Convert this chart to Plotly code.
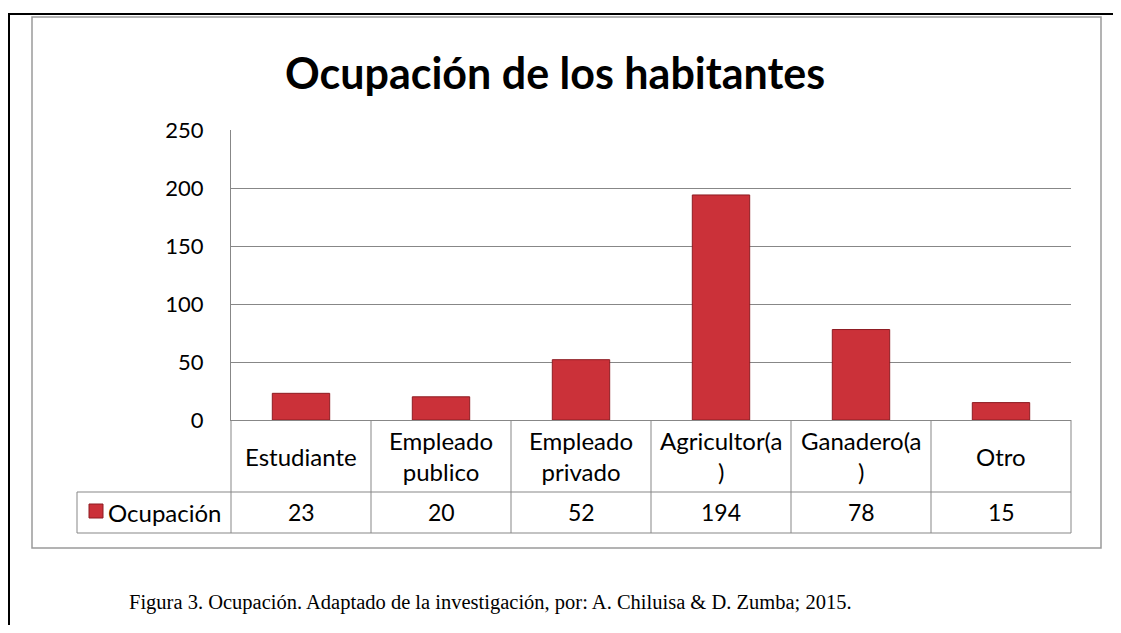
import plotly.graph_objects as go

categories = ["Estudiante", "Empleado publico", "Empleado privado", "Agricultor(a)", "Ganadero(a)", "Otro"]
cat_labels = ["Estudiante", "Empleado<br>publico", "Empleado<br>privado", "Agricultor(a<br>)", "Ganadero(a<br>)", "Otro"]
values = [23, 20, 52, 194, 78, 15]
series_name = "Ocupación"
title = "Ocupación de los habitantes"
caption = "Figura 3. Ocupación. Adaptado de la investigación, por: A. Chiluisa & D. Zumba; 2015."
y_ticks = [0, 50, 100, 150, 200, 250]

OFF = 8  # page body margin
W, H = 1121 - 2 * OFF, 633 - 2 * OFF
L, R, T, B = 231, 1071, 130, 420  # target page pixels


def px(x):
    return (x - L) / (R - L)


def py(y):
    return (B - y) / (B - T)


FONT = "Lato"
GRID = "#878787"
BAR = "#CB3139"
BAR_EDGE = "#8E1C22"

fig = go.Figure()
fig.add_trace(go.Bar(
    x=categories, y=values, name=series_name, width=0.41,
    marker=dict(color=BAR, line=dict(color=BAR_EDGE, width=1)),
    showlegend=False,
))

shapes = []


def line(x0, y0, x1, y1, color=GRID, width=1):
    shapes.append(dict(type="line", xref="paper", yref="paper",
                       x0=px(x0), y0=py(y0), x1=px(x1), y1=py(y1),
                       line=dict(color=color, width=width)))


# outer black frame (top and left)
line(8, 14, 1125, 14, "#000000", 2)
line(9, 14, 9, 640, "#000000", 2)
# gray chart frame
shapes.append(dict(type="rect", xref="paper", yref="paper",
                   x0=px(32), y0=py(17), x1=px(1101), y1=py(548),
                   line=dict(color="#9a9a9a", width=1.5)))

# data table grid
row1, row2 = 492, 533
line(77, row1, R, row1)
line(77, row2, R, row2)
line(77, row1, 77, row2)
n = len(categories)
colw = (R - L) / n
for i in range(n + 1):
    xx = L + i * colw
    line(xx, B, xx, row2)

annotations = []
for i, (lab, v) in enumerate(zip(cat_labels, values)):
    annotations.append(dict(x=categories[i], xref="x", y=py(456), yref="paper",
                            text=lab, showarrow=False, yanchor="middle",
                            font=dict(family=FONT, size=24, color="#000")))
    annotations.append(dict(x=categories[i], xref="x", y=py(512), yref="paper",
                            text=str(v), showarrow=False, yanchor="middle",
                            font=dict(family=FONT, size=23, color="#000")))

# legend key in table
shapes.append(dict(type="rect", xref="paper", yref="paper",
                   x0=px(89), y0=py(504), x1=px(103), y1=py(518),
                   fillcolor=BAR, line=dict(color=BAR_EDGE, width=1)))
annotations.append(dict(x=px(106), y=py(512), xref="paper", yref="paper",
                        text=series_name, showarrow=False, xanchor="left", yanchor="middle",
                        font=dict(family=FONT, size=24, color="#000")))

# title
annotations.append(dict(x=px(555), y=py(72), xref="paper", yref="paper",
                        text="<b>" + title + "</b>", showarrow=False,
                        xanchor="center", yanchor="middle",
                        font=dict(family=FONT, size=43, color="#000")))
# caption
annotations.append(dict(x=px(490), y=py(602), xref="paper", yref="paper",
                        text=caption, showarrow=False,
                        xanchor="center", yanchor="middle",
                        font=dict(family="Liberation Serif", size=20.5, color="#000")))

fig.update_layout(
    width=W, height=H,
    margin=dict(l=L - OFF, r=W - (R - OFF), t=T - OFF, b=H - (B - OFF), pad=0),
    paper_bgcolor="white", plot_bgcolor="white",
    shapes=shapes, annotations=annotations,
    xaxis=dict(range=[-0.5, n - 0.5], showticklabels=False, showgrid=False,
               zeroline=False, showline=True, linecolor=GRID, linewidth=1,
               fixedrange=True),
    yaxis=dict(range=[0, 250], tickvals=y_ticks, showgrid=True, gridcolor=GRID,
               gridwidth=1.3, zeroline=False, showline=True, linecolor=GRID,
               linewidth=1, ticks="", ticklabelstandoff=22,
               tickfont=dict(family=FONT, size=22, color="#000"), fixedrange=True),
    showlegend=False,
)

fig.write_html("out.html")
